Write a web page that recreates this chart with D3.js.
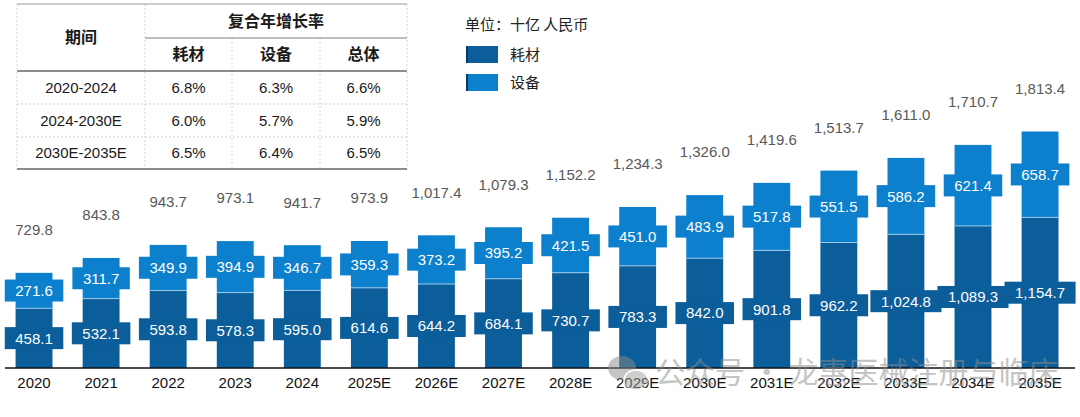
<!DOCTYPE html>
<html>
<head>
<meta charset="utf-8">
<script src="https://cdn.jsdelivr.net/npm/d3@7.9.0/dist/d3.min.js"></script>
<style>
  html, body { margin: 0; padding: 0; background: #fff; }
  svg { display: block; font-family: "Liberation Sans", Arial, "Noto Sans CJK SC", sans-serif; }
  .cjk { font-family: "Noto Sans CJK SC", "Liberation Sans", sans-serif; }
</style>
</head>
<body>
<svg id="chart" width="1080" height="417"></svg>
<script>
// data
const years = ['2020', '2021', '2022', '2023', '2024', '2025E', '2026E', '2027E',
  '2028E', '2029E', '2030E', '2031E', '2032E', '2033E', '2034E', '2035E'];
const consumables = [458.1, 532.1, 593.8, 578.3, 595.0, 614.6, 644.2, 684.1,
  730.7, 783.3, 842.0, 901.8, 962.2, 1024.8, 1089.3, 1154.7];
const equipment = [271.6, 311.7, 349.9, 394.9, 346.7, 359.3, 373.2, 395.2,
  421.5, 451.0, 483.9, 517.8, 551.5, 586.2, 621.4, 658.7];
const totals = [729.8, 843.8, 943.7, 973.1, 941.7, 973.9, 1017.4, 1079.3,
  1152.2, 1234.3, 1326.0, 1419.6, 1513.7, 1611.0, 1710.7, 1813.4];

const seriesNames = ['耗材', '设备'];
const periods = ['2020-2024', '2024-2030E', '2030E-2035E'];
const cagrConsumables = ['6.8%', '6.0%', '6.5%'];
const cagrEquipment = ['6.3%', '5.7%', '6.4%'];
const cagrTotal = ['6.6%', '5.9%', '6.5%'];

const darkBlue = '#0b5e9a';
const lightBlue = '#0c80cc';
const colors = [darkBlue, lightBlue];

const svg = d3.select('#chart');
const fmt = d3.format(',.1f');

const x = d3.scaleBand()
  .domain(years)
  .range([0.5, 1073.6])
  .paddingInner(0.45)
  .paddingOuter(0.225);

const y = d3.scaleLinear()
  .domain([0, 1813.4])
  .range([368, 131.5]);

const rows = years.map((yr, i) => ({ year: yr, c: consumables[i], e: equipment[i], t: totals[i] }));
const stack = d3.stack().keys(['c', 'e'])(rows);

// bars
const bars = svg.append('g');
stack.forEach((layer, li) => {
  bars.selectAll(null)
    .data(layer)
    .join('rect')
    .attr('x', (d) => x(d.data.year))
    .attr('width', x.bandwidth())
    .attr('y', (d) => y(d[1]))
    .attr('height', (d) => y(d[0]) - y(d[1]))
    .attr('fill', colors[li]);
});

// thin light seam between segments
bars.selectAll(null)
  .data(rows)
  .join('line')
  .attr('x1', (d) => x(d.year))
  .attr('x2', (d) => x(d.year) + x.bandwidth())
  .attr('y1', (d) => y(d.c))
  .attr('y2', (d) => y(d.c))
  .attr('stroke', '#9ec9ea')
  .attr('stroke-width', 1);

// label boxes in segment colour, wider than the bar
const boxH = 22;
stack.forEach((layer, li) => {
  const g = svg.append('g');
  layer.forEach((d) => {
    const cx = x(d.data.year) + x.bandwidth() / 2;
    const cy = (y(d[0]) + y(d[1])) / 2;
    const txt = g.append('text')
      .attr('x', cx)
      .attr('y', cy)
      .attr('dy', '0.36em')
      .attr('text-anchor', 'middle')
      .attr('font-size', 15)
      .attr('fill', '#fff')
      .text(fmt(d[1] - d[0]));
    const w = txt.node().getComputedTextLength() + 21;
    g.insert('rect', 'text')
      .attr('x', cx - w / 2)
      .attr('y', cy - boxH / 2)
      .attr('width', w)
      .attr('height', boxH)
      .attr('fill', colors[li]);
  });
});

// totals above
svg.append('g')
  .selectAll('text')
  .data(rows)
  .join('text')
  .attr('x', (d) => x(d.year) + x.bandwidth() / 2)
  .attr('y', (d) => y(d.t) - 43)
  .attr('dy', '0.36em')
  .attr('text-anchor', 'middle')
  .attr('font-size', 15)
  .attr('fill', '#595959')
  .text((d) => fmt(d.t));

// x axis
const xAxis = svg.append('g')
  .attr('transform', 'translate(0,368)')
  .call(d3.axisBottom(x).tickSize(0).tickPadding(9));
xAxis.select('.domain').attr('stroke', '#111').attr('stroke-width', 1.5).attr('d', 'M5,0H1075');
xAxis.selectAll('text')
  .attr('font-size', 15)
  .attr('fill', '#111')
  .style('font-family', '"Liberation Sans", Arial, sans-serif');

// legend
const legend = svg.append('g');
legend.append('text')
  .attr('class', 'cjk')
  .attr('x', 465)
  .attr('y', 25)
  .attr('dy', '0.36em')
  .attr('font-size', 15)
  .attr('fill', '#222')
  .text('单位：十亿 人民币');
seriesNames.forEach((name, i) => {
  legend.append('rect')
    .attr('x', 466)
    .attr('y', 46 + i * 28)
    .attr('width', 32)
    .attr('height', 17)
    .attr('fill', colors[i]);
  legend.append('rect')
    .attr('x', 466)
    .attr('y', 46 + i * 28)
    .attr('width', 2)
    .attr('height', 17)
    .attr('fill', '#063a66');
  legend.append('text')
    .attr('class', 'cjk')
    .attr('x', 510)
    .attr('y', 55 + i * 28)
    .attr('dy', '0.36em')
    .attr('font-size', 15)
    .attr('fill', '#222')
    .text(name);
});

// CAGR table
const table = svg.append('g');
const colX = [17, 145, 232, 320, 407];
const rowY = [4, 38, 71, 104, 137, 169];
const mid = (a, b) => (a + b) / 2;

const hline = (x1, x2, yy, stroke, sw, dash) => table.append('line')
  .attr('x1', x1).attr('x2', x2).attr('y1', yy).attr('y2', yy)
  .attr('stroke', stroke).attr('stroke-width', sw)
  .attr('stroke-dasharray', dash || null);
const vline = (xx, y1, y2) => table.append('line')
  .attr('x1', xx).attr('x2', xx).attr('y1', y1).attr('y2', y2)
  .attr('stroke', '#d4d4d4').attr('stroke-width', 1)
  .attr('stroke-dasharray', '2,2');

vline(colX[0], rowY[0], rowY[5]);
vline(colX[1], rowY[0], rowY[5]);
vline(colX[2], rowY[1], rowY[5]);
vline(colX[3], rowY[1], rowY[5]);
vline(colX[4], rowY[0], rowY[5]);
hline(colX[0], colX[4], rowY[0], '#9a9a9a', 1);
hline(colX[1], colX[4], rowY[1], '#7a7a7a', 1);
hline(colX[0], colX[4], rowY[2], '#666', 1.5);
hline(colX[0], colX[4], rowY[3], '#cfcfcf', 1, '2,2');
hline(colX[0], colX[4], rowY[4], '#cfcfcf', 1, '2,2');
hline(colX[0], colX[4], rowY[5], '#666', 1.5);

const cell = (cx, cy, t, bold) => table.append('text')
  .attr('class', bold ? 'cjk' : null)
  .attr('x', cx)
  .attr('y', cy)
  .attr('dy', '0.36em')
  .attr('text-anchor', 'middle')
  .attr('font-size', bold ? 16 : 15)
  .attr('font-weight', bold ? 'bold' : 'normal')
  .attr('fill', '#1a1a1a')
  .text(t);

cell(mid(colX[0], colX[1]), mid(rowY[0], rowY[2]), '期间', true);
cell(mid(colX[1], colX[4]), mid(rowY[0], rowY[1]), '复合年增长率', true);
cell(mid(colX[1], colX[2]), mid(rowY[1], rowY[2]), '耗材', true);
cell(mid(colX[2], colX[3]), mid(rowY[1], rowY[2]), '设备', true);
cell(mid(colX[3], colX[4]), mid(rowY[1], rowY[2]), '总体', true);
periods.forEach((p, i) => {
  const cy = mid(rowY[i + 2], rowY[i + 3]);
  cell(mid(colX[0], colX[1]), cy, p);
  cell(mid(colX[1], colX[2]), cy, cagrConsumables[i]);
  cell(mid(colX[2], colX[3]), cy, cagrEquipment[i]);
  cell(mid(colX[3], colX[4]), cy, cagrTotal[i]);
});

// watermark
const wm = svg.append('g').attr('opacity', 0.5);
wm.append('ellipse').attr('cx', 622).attr('cy', 368).attr('rx', 14).attr('ry', 12).attr('fill', '#8a8a8a');
wm.append('ellipse').attr('cx', 636).attr('cy', 380).attr('rx', 12).attr('ry', 10).attr('fill', '#a0a0a0')
  .attr('stroke', '#fff').attr('stroke-width', 1.5);
wm.append('text')
  .attr('class', 'cjk')
  .attr('x', 655)
  .attr('y', 372)
  .attr('dy', '0.36em')
  .attr('font-size', 30)
  .attr('fill', '#8c8c8c')
  .text('公众号 · 龙惠医械注册与临床');
</script>
</body>
</html>
